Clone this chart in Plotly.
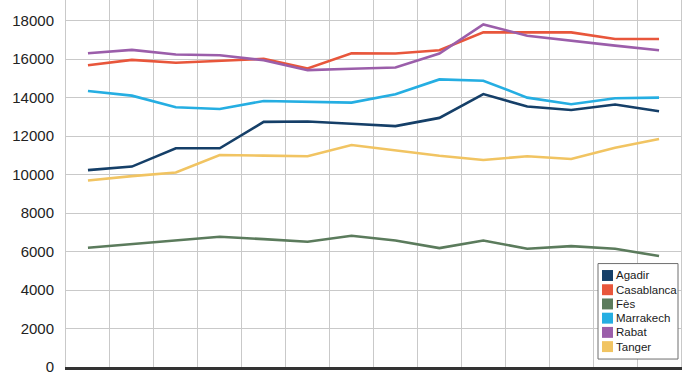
import plotly.graph_objects as go

years = ["2005", "2006", "2007", "2008", "2009", "2010", "2011",
         "2012", "2013", "2014", "2015", "2016", "2017", "2018"]

agadir = [10233, 10419, 11370, 11370, 12744, 12765, 12650, 12522, 12951, 14191, 13540, 13364, 13643, 13297]
casablanca = [15690, 15969, 15814, 15933, 16021, 15519, 16310, 16295, 16465, 17396, 17396, 17396, 17054, 17054]
fes = [6202, 6400, 6580, 6770, 6650, 6512, 6822, 6579, 6181, 6579, 6150, 6284, 6150, 5767]
marrakech = [14346, 14109, 13504, 13416, 13830, 13778, 13747, 14176, 14951, 14884, 14005, 13659, 13969, 14005]
rabat = [16310, 16486, 16243, 16207, 15948, 15432, 15504, 15571, 16295, 17809, 17225, 16951, 16708, 16465]
tanger = [9695, 9922, 10109, 11023, 10987, 10956, 11540, 11246, 10987, 10765, 10956, 10816, 11401, 11850]

names = ["Agadir", "Casablanca", "Fès", "Marrakech", "Rabat", "Tanger"]
series = [agadir, casablanca, fes, marrakech, rabat, tanger]
colors = ["#153f68", "#e8563b", "#5b7b5c", "#25aee2", "#9b5eaa", "#f1c462"]

y_ticks = [0, 2000, 4000, 6000, 8000, 10000, 12000, 14000, 16000, 18000]
y_ticktext = ["0", "2000", "4000", "6000", "8000", "10000", "12000", "14000", "16000", "18000"]

fig = go.Figure()
for name, vals, col in zip(names, series, colors):
    fig.add_trace(go.Scatter(x=years, y=vals, name=name, mode="lines",
                             line=dict(color=col, width=2.6), showlegend=False))

# Manual legend (box + colour squares + labels), placed in paper coordinates
W, H = 615.0, 369.0  # plot area size in px
def px(x):
    return (x - 66) / W
def py(y):
    return (369 - y) / H

shapes = [dict(type="rect", xref="paper", yref="paper",
               x0=px(598), x1=px(678), y0=py(361), y1=py(265),
               line=dict(color="#6e6e6e", width=1), fillcolor="white", layer="above")]
annotations = []
for i, (name, col) in enumerate(zip(names, colors)):
    cy = 277 + i * 14.3
    shapes.append(dict(type="rect", xref="paper", yref="paper",
                       x0=px(602), x1=px(613), y0=py(cy + 5.5), y1=py(cy - 5.5),
                       line=dict(width=0), fillcolor=col, layer="above"))
    annotations.append(dict(xref="paper", yref="paper", x=px(614), y=py(cy),
                            text=name, showarrow=False, xanchor="left", yanchor="middle",
                            font=dict(family="Liberation Sans, Arial, sans-serif",
                                      size=11.5, color="#1a1a1a")))

fig.update_layout(
    width=693, height=375,
    margin=dict(l=66, r=12, t=0, b=6),
    paper_bgcolor="white", plot_bgcolor="white",
    font=dict(family="Liberation Sans, Arial, sans-serif", color="#222222"),
    shapes=shapes, annotations=annotations,
    showlegend=False,
)
fig.update_xaxes(type="category", tickson="boundaries", showgrid=True,
                 gridcolor="#c9c9c9", gridwidth=1, showticklabels=False, ticks="",
                 showline=True, linecolor="#333333", linewidth=3, zeroline=False,
                 range=[-0.5, 13.5])
fig.update_yaxes(range=[0, 19080], tickvals=y_ticks, ticktext=y_ticktext,
                 showgrid=True, gridcolor="#c9c9c9", gridwidth=1, zeroline=False,
                 showline=True, linecolor="#c9c9c9", linewidth=1, mirror=True,
                 tickfont=dict(size=15, color="#222222"), ticks="", ticklabelstandoff=8,
                 ticklabeloverflow="allow")

fig.write_html("out.html", config={"displayModeBar": False},
               post_script="document.body.style.margin='0';document.body.style.overflow='hidden';")
